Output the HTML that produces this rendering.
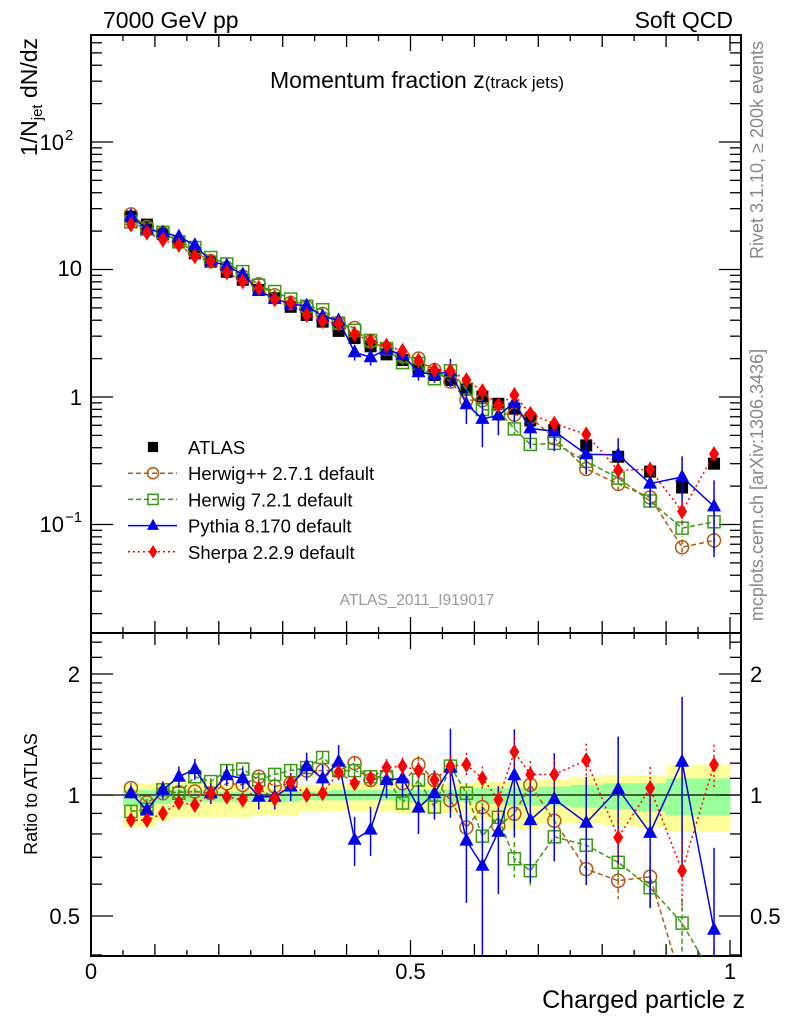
<!DOCTYPE html>
<html><head><meta charset="utf-8"><style>
html,body{margin:0;padding:0;background:#fff;overflow:hidden;width:786px;height:1024px;}
svg{display:block;font-family:"Liberation Sans",Arial,sans-serif;}
</style></head><body>
<svg id="c" width="786" height="1024" viewBox="0 0 786 1024" xmlns="http://www.w3.org/2000/svg">
<defs>
<clipPath id="clipM"><rect x="91" y="35" width="650" height="598"/></clipPath>
<clipPath id="clipR"><rect x="91" y="633" width="650" height="323"/></clipPath>
</defs>
<text x="103" y="28" font-size="23">7000 GeV pp</text>
<text x="733" y="28" font-size="23" text-anchor="end">Soft QCD</text>
<text x="417" y="88" font-size="23" text-anchor="middle">Momentum fraction z<tspan font-size="17">(track jets)</tspan></text>
<text x="417" y="605" font-size="15.5" fill="#999" text-anchor="middle">ATLAS_2011_I919017</text>
<text transform="translate(763,150) rotate(-90)" font-size="18" fill="#888" text-anchor="middle">Rivet 3.1.10, ≥ 200k events</text>
<text transform="translate(763,485) rotate(-90)" font-size="18" fill="#888" text-anchor="middle">mcplots.cern.ch [arXiv:1306.3436]</text>
<text transform="translate(37,97) rotate(-90)" font-size="23" text-anchor="middle">1/N<tspan font-size="15" dy="5">jet</tspan><tspan dy="-5"> dN/dz</tspan></text>
<text transform="translate(37,794) rotate(-90)" font-size="18" text-anchor="middle">Ratio to ATLAS</text>
<text x="745" y="1008" font-size="25" text-anchor="end">Charged particle z</text>
<g id="bands" clip-path="url(#clipR)"></g>
<g id="frames"></g>
<g id="mainMarks" clip-path="url(#clipM)"></g>
<g id="ratioMarks" clip-path="url(#clipR)"></g>
<g id="legend"></g>
</svg>
<script>
const zCenters = [0.0625,0.0875,0.1125,0.1375,0.1625,0.1875,0.2125,0.2375,0.2625,0.2875,0.3125,0.3375,0.3625,0.3875,0.4125,0.4375,0.4625,0.4875,0.5125,0.5375,0.5625,0.5875,0.6125,0.6375,0.6625,0.6875,0.725,0.775,0.825,0.875,0.925,0.975];
const binHalf = [0.0125,0.0125,0.0125,0.0125,0.0125,0.0125,0.0125,0.0125,0.0125,0.0125,0.0125,0.0125,0.0125,0.0125,0.0125,0.0125,0.0125,0.0125,0.0125,0.0125,0.0125,0.0125,0.0125,0.0125,0.0125,0.0125,0.025,0.025,0.025,0.025,0.025,0.025];
const atlas = [26,22.5,19,16.3,13.4,11.5,9.6,8.3,6.9,5.97,5.1,4.4,3.9,3.3,2.9,2.5,2.16,1.95,1.68,1.49,1.36,1.14,1.01,0.885,0.81,0.655,0.55,0.417,0.34,0.26,0.195,0.30];
const herwigpp = [1.04,0.958,1.01,1.015,1.02,1.01,1.07,1.06,1.11,1.05,1.07,1.15,1.15,1.15,1.20,1.09,1.11,1.07,1.19,1.09,0.97,0.83,0.933,0.837,0.898,1.06,0.863,0.654,0.612,0.626,0.34,0.25];
const herwig7 = [0.91,0.922,1.03,1.01,1.11,1.08,1.15,1.16,1.09,1.125,1.15,1.17,1.24,1.15,1.15,1.11,1.11,0.955,1.09,0.933,1.18,1.01,0.79,0.88,0.694,0.648,0.787,0.75,0.68,0.588,0.48,0.35];
const pythia = [1.01,0.918,1.03,1.11,1.16,1.01,1.12,1.10,0.99,0.99,1.05,1.18,1.10,1.21,0.774,0.82,1.09,1.10,0.93,1.01,1.17,0.77,0.667,0.81,1.12,0.866,0.977,0.853,1.035,0.805,1.21,0.462];
const sherpa = [0.866,0.866,0.90,0.958,0.945,1.01,0.99,0.973,1.04,0.977,1.076,1.0,1.01,1.14,1.07,1.10,1.17,1.18,1.15,1.09,1.18,1.19,1.10,0.973,1.28,1.125,1.125,1.22,0.784,1.04,0.648,1.19];
const hwppErr = [0.03,0.02,0.02,0.02,0.02,0.02,0.02,0.02,0.03,0.03,0.03,0.03,0.03,0.03,0.04,0.04,0.04,0.04,0.05,0.05,0.06,0.06,0.07,0.07,0.08,0.08,0.08,0.09,0.1,0.11,0.15,0.2];
const hw7Err = [0.03,0.02,0.02,0.02,0.02,0.02,0.02,0.02,0.03,0.03,0.03,0.03,0.03,0.03,0.04,0.04,0.04,0.04,0.05,0.05,0.06,0.06,0.07,0.07,0.1,0.08,0.08,0.09,0.1,0.11,0.15,0.2];
const pyErr = [0.03,0.03,0.05,0.06,0.06,0.06,0.06,0.06,0.07,0.07,0.08,0.08,0.08,0.1,0.14,0.14,0.1,0.1,0.14,0.14,0.25,0.3,0.4,0.3,0.3,0.3,0.3,0.3,0.35,0.35,0.45,0.6];
const shErr = [0.02,0.02,0.02,0.02,0.02,0.02,0.02,0.02,0.03,0.03,0.03,0.03,0.03,0.04,0.04,0.04,0.05,0.05,0.05,0.05,0.06,0.07,0.07,0.08,0.1,0.08,0.09,0.1,0.12,0.13,0.2,0.12];
const yellowUp = [0.07,0.07,0.08,0.08,0.08,0.08,0.06,0.06,0.06,0.06,0.06,0.06,0.06,0.07,0.07,0.07,0.07,0.07,0.07,0.07,0.07,0.07,0.08,0.08,0.08,0.08,0.09,0.11,0.12,0.12,0.19,0.19];
const yellowDn = [0.17,0.17,0.14,0.12,0.12,0.12,0.12,0.12,0.11,0.11,0.11,0.09,0.09,0.09,0.09,0.09,0.09,0.10,0.10,0.10,0.10,0.10,0.13,0.13,0.18,0.18,0.15,0.15,0.16,0.17,0.19,0.19];
const greenUp = [0.03,0.03,0.03,0.03,0.03,0.03,0.02,0.02,0.02,0.02,0.02,0.02,0.02,0.03,0.03,0.03,0.03,0.03,0.03,0.03,0.03,0.03,0.04,0.04,0.04,0.04,0.05,0.06,0.07,0.07,0.10,0.10];
const greenDn = [0.06,0.06,0.05,0.04,0.04,0.04,0.04,0.04,0.04,0.04,0.04,0.03,0.03,0.03,0.03,0.03,0.03,0.04,0.04,0.04,0.04,0.04,0.05,0.05,0.06,0.06,0.06,0.07,0.08,0.09,0.11,0.11];
const xTickLabels = ["0","0.5","1"];
const xTickVals = [0,0.5,1];

const NS="http://www.w3.org/2000/svg";
function mk(tag,attrs,parent){const e=document.createElementNS(NS,tag);for(const k in attrs)e.setAttribute(k,attrs[k]);parent.appendChild(e);return e;}
const X = z => 91 + z*639;
const YM = v => 397 - 127.5*Math.log10(v);
const YR = r => 795 - 121*Math.log2(r);
const frames=document.getElementById('frames');
const mainG=document.getElementById('mainMarks');
const ratG=document.getElementById('ratioMarks');
const bandG=document.getElementById('bands');
const legG=document.getElementById('legend');

for(let i=0;i<zCenters.length;i++){
  const x0=X(zCenters[i]-binHalf[i]), x1=X(zCenters[i]+binHalf[i]);
  const y=mk('rect',{x:x0,y:YR(1+yellowUp[i]),width:x1-x0+0.5,height:YR(1-yellowDn[i])-YR(1+yellowUp[i]),fill:'#ffff99'},bandG);
  
  
  const g=mk('rect',{x:x0,y:YR(1+greenUp[i]),width:x1-x0+0.5,height:YR(1-greenDn[i])-YR(1+greenUp[i]),fill:'#99ff99'},bandG);
  
  
}
const l1=mk('line',{x1:91,x2:741,y1:YR(1),y2:YR(1),stroke:'#000','stroke-width':1.3},bandG);



const fm=mk('rect',{x:91,y:35,width:650,height:598,fill:'none',stroke:'#000','stroke-width':2},frames);


const fr=mk('rect',{x:91,y:633,width:650,height:323,fill:'none',stroke:'#000','stroke-width':2},frames);


for(let k=1;k<=20;k++){
  const z=k*0.05, x=X(z), L=(k%10===0)?16:((k%2===0)?12:6);
  if(x>741)continue;
  for(const [yt,yb] of [[35,633],[633,956]]){
    mk('line',{x1:x,x2:x,y1:yt,y2:yt+L,stroke:'#000','stroke-width':1.3},frames);
    mk('line',{x1:x,x2:x,y1:yb-L,y2:yb,stroke:'#000','stroke-width':1.3},frames);
  }
}
xTickVals.forEach((v,i)=>{const t=mk('text',{x:X(v),y:979,'font-size':22,'text-anchor':'middle'},frames);t.textContent=xTickLabels[i];

});
for(let d=-2;d<=2;d++){
  for(let m=1;m<=9;m++){
    const v=m*Math.pow(10,d), y=YM(v);
    if(y<35||y>633)continue;
    const L=m===1?22:11;
    mk('line',{x1:91,x2:91+L,y1:y,y2:y,stroke:'#000','stroke-width':1.3},frames);
    mk('line',{x1:741-L,x2:741,y1:y,y2:y,stroke:'#000','stroke-width':1.3},frames);
  }
}
[[142,'10','2'],[268,'10',''],[397,'1',''],[524,'10','−1']].forEach(([y,b,e])=>{
  const t=mk('text',{x:e?64:82,y:y+8,'font-size':22,'text-anchor':'end'},frames);
  t.textContent=b;
  
  
  if(e){const s=mk('text',{x:65,y:y-2,'font-size':15},frames);s.textContent=e;
    
    }
});
const rt=[0.4,0.5,0.6,0.7,0.8,0.9,1,1.1,1.2,1.3,1.4,1.5,1.6,1.7,1.8,1.9,2,2.2,2.4];
rt.forEach(r=>{const y=YR(r);if(y<633||y>956)return;const L=(r===0.5||r===1||r===2)?22:11;
  mk('line',{x1:91,x2:91+L,y1:y,y2:y,stroke:'#000','stroke-width':1.3},frames);
  mk('line',{x1:741-L,x2:741,y1:y,y2:y,stroke:'#000','stroke-width':1.3},frames);});
[[2,'2'],[1,'1'],[0.5,'0.5']].forEach(([r,s])=>{
  for(const [x,a] of [[80,'end'],[750,'start']]){
    const t=mk('text',{x:x,y:YR(r)+8,'font-size':22,'text-anchor':a},frames);t.textContent=s;
    
    
  }
});

function marker(g,type,x,y,col,sc){
  sc=sc||1;let e;
  const h=6*sc;
  if(type==='sq') e=mk('rect',{x:x-h,y:y-h,width:2*h,height:2*h,fill:'#000'},g);
  else if(type==='osq') e=mk('rect',{x:x-h,y:y-h,width:2*h,height:2*h,fill:'none',stroke:col,'stroke-width':1.5},g);
  else if(type==='circ') e=mk('circle',{cx:x,cy:y,r:6.5*sc,fill:'none',stroke:col,'stroke-width':1.5},g);
  else if(type==='tri') e=mk('polygon',{points:`${x},${y-8*sc} ${x-7*sc},${y+5*sc} ${x+7*sc},${y+5*sc}`,fill:col},g);
  else if(type==='dia') e=mk('polygon',{points:`${x},${y-8*sc} ${x-5*sc},${y} ${x},${y+8*sc} ${x+5*sc},${y}`,fill:col},g);
  return e;
}
const series=[
  {name:'herwigpp',vals:herwigpp,err:hwppErr,col:'#b35a10',dash:'5,3',type:'circ',label:'Herwig++ 2.7.1 default'},
  {name:'herwig7',vals:herwig7,err:hw7Err,col:'#3a9a14',dash:'5,3',type:'osq',label:'Herwig 7.2.1 default'},
  {name:'pythia',vals:pythia,err:pyErr,col:'#0000ee',dash:'',type:'tri',label:'Pythia 8.170 default'},
  {name:'sherpa',vals:sherpa,err:shErr,col:'#ff0000',dash:'2,3',type:'dia',label:'Sherpa 2.2.9 default'}
];
atlas.forEach((v,i)=>{const m=marker(mainG,'sq',X(zCenters[i]),YM(v),'#000');

});
series.forEach(s=>{
  for(const [g,fy] of [[mainG,(i,r)=>YM(atlas[i]*r)],[ratG,(i,r)=>YR(r)]]){
    const pts=s.vals.map((r,i)=>`${X(zCenters[i])},${fy(i,r)}`).join(' ');
    const pl=mk('polyline',{points:pts,fill:'none',stroke:s.col,'stroke-width':1.5,'stroke-dasharray':s.dash},g);
    
    
    s.vals.forEach((r,i)=>{
      const x=X(zCenters[i]);
      const eb=mk('line',{x1:x,x2:x,y1:fy(i,r*(1+s.err[i])),y2:fy(i,Math.max(r*(1-s.err[i]),0.01)),stroke:s.col,'stroke-width':1.5,'stroke-dasharray':s.dash},g);
      
      
      const m=marker(g,s.type,x,fy(i,r),s.col);
      
      
    });
  }
});
const legRows=[{type:'sq',col:'#000',dash:'',label:'ATLAS',name:'atlas'}].concat(series);
legRows.forEach((s,k)=>{
  const y=447+k*26.2;
  if(k>0){const l=mk('line',{x1:128,x2:177,y1:y,y2:y,stroke:s.col,'stroke-width':1.5,'stroke-dasharray':s.dash},legG);
    
    }
  const m=marker(legG,s.type,153,y,s.col,0.85);
  
  
  const t=mk('text',{x:188,y:y+7,'font-size':18.5},legG);t.textContent=s.label;
  
  
});
</script>
</body></html>
